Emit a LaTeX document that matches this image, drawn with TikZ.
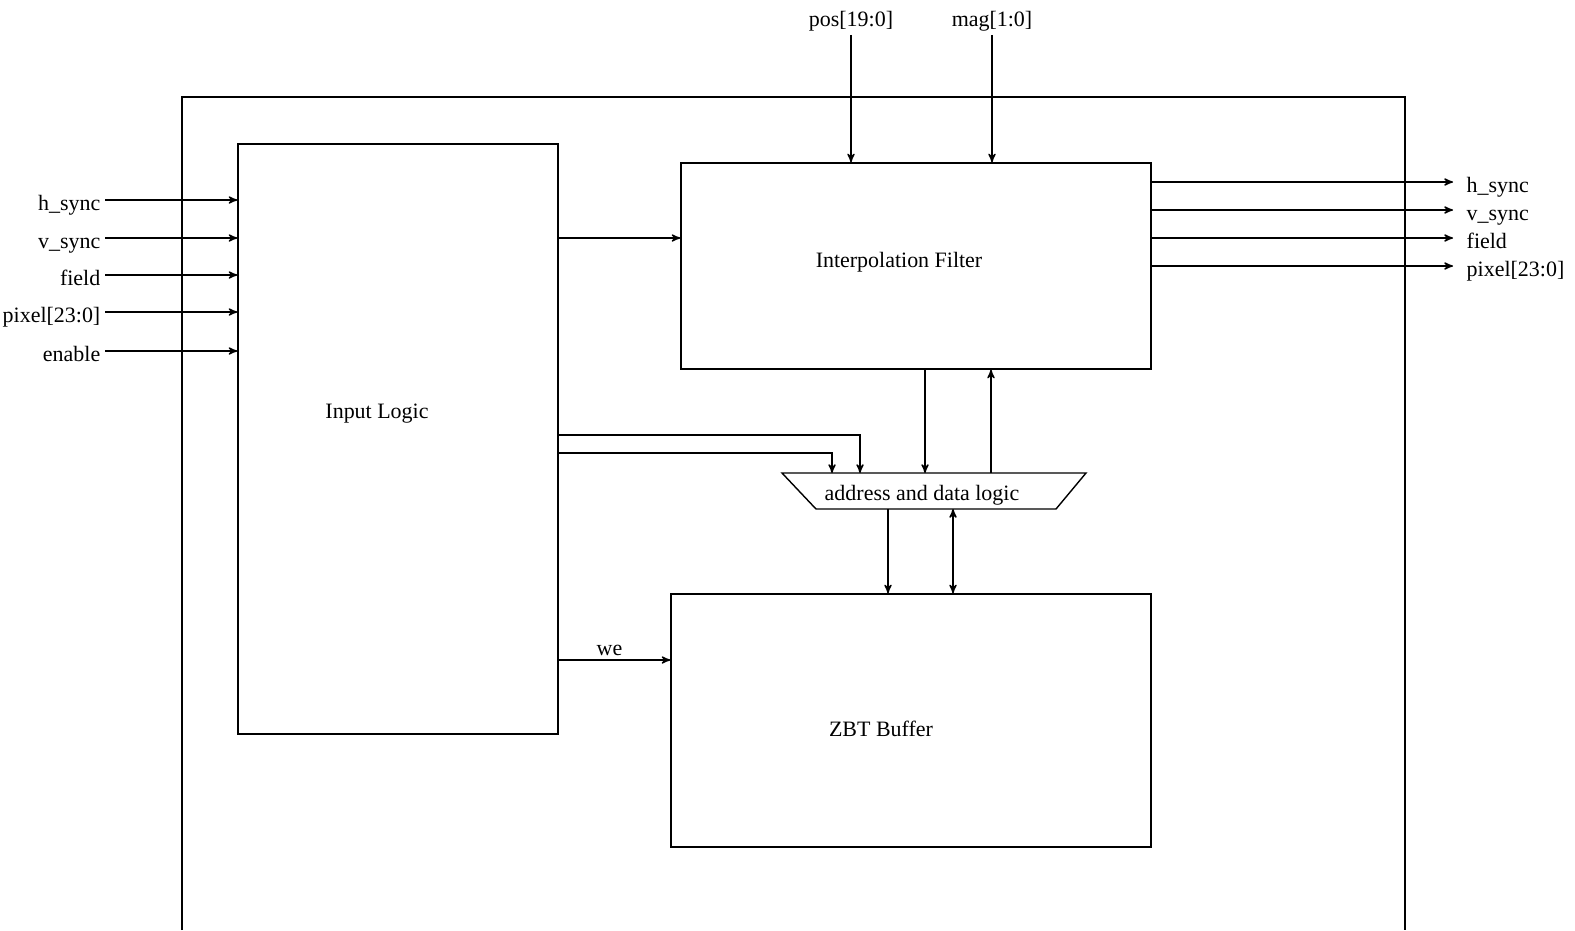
\documentclass[tikz,border=0pt]{standalone}
\usepackage{fontspec}
\setmainfont{Liberation Serif}
\usetikzlibrary{arrows,positioning,calc}

\tikzset{
  blk/.style={draw, rectangle, inner sep=0pt},
  lbl/.style={font=\fontsize{12.5}{15}\selectfont, inner sep=2pt},
  inlbl/.style={lbl, anchor=base east, inner xsep=0.08cm},
  outlbl/.style={lbl, anchor=base west, inner xsep=0.26cm}
}

\begin{document}
\begin{tikzpicture}[x=0.02cm,y=-0.02cm,line width=0.8pt,>=stealth']

\useasboundingbox (0,0) rectangle (1575,930);

% outer frame, open at the bottom
\draw (182,930) -- (182,97) -- (1405,97) -- (1405,930);

% blocks
\node[blk, minimum width=6.4cm, minimum height=11.8cm] (inlog) at (398,439) {};
\node[blk, minimum width=9.4cm, minimum height=4.12cm] (interp) at (916,266) {};
\node[blk, minimum width=9.6cm, minimum height=5.06cm] (zbt) at (911,720.5) {};

\node[lbl] (inlogtxt) at (377,414) {Input Logic};
\node[lbl] (interptxt) at (899,262) {Interpolation Filter};
\node[lbl] (zbttxt) at (881,729) {ZBT Buffer};

% address and data logic
\coordinate (adltl) at (782,473);
\coordinate (adltr) at (1086,473);
\coordinate (adlbr) at (1056,509);
\coordinate (adlbl) at (816,509);
\draw (adltl) -- (adltr) -- (adlbr) -- (adlbl) -- cycle;
\node[lbl] (adl) at (922,495) {address and data logic};

% inputs
\node[inlbl] (inhs) at (105,210) {h\_sync};
\node[inlbl] (invs) at (105,248) {v\_sync};
\node[inlbl] (infd) at (105,285) {field};
\node[inlbl] (inpx) at (105,322) {pixel[23:0]};
\node[inlbl] (inen) at (105,361) {enable};
\draw[->] ([yshift=0.2cm]inhs.base east) -- ([yshift=0.2cm]inhs.base east -| inlog.west);
\draw[->] ([yshift=0.2cm]invs.base east) -- ([yshift=0.2cm]invs.base east -| inlog.west);
\draw[->] ([yshift=0.2cm]infd.base east) -- ([yshift=0.2cm]infd.base east -| inlog.west);
\draw[->] ([yshift=0.2cm]inpx.base east) -- ([yshift=0.2cm]inpx.base east -| inlog.west);
\draw[->] ([yshift=0.2cm]inen.base east) -- ([yshift=0.2cm]inen.base east -| inlog.west);

% outputs
\node[outlbl] (ouths) at (1453,192) {h\_sync};
\node[outlbl] (outvs) at (1453,220) {v\_sync};
\node[outlbl] (outfd) at (1453,248) {field};
\node[outlbl] (outpx) at (1453,276) {pixel[23:0]};
\draw[->] ([yshift=0.2cm]ouths.base west -| interp.east) -- ([yshift=0.2cm]ouths.base west);
\draw[->] ([yshift=0.2cm]outvs.base west -| interp.east) -- ([yshift=0.2cm]outvs.base west);
\draw[->] ([yshift=0.2cm]outfd.base west -| interp.east) -- ([yshift=0.2cm]outfd.base west);
\draw[->] ([yshift=0.2cm]outpx.base west -| interp.east) -- ([yshift=0.2cm]outpx.base west);

% control inputs on top
\node[lbl, anchor=base] (pos) at (851,26) {pos[19:0]};
\node[lbl, anchor=base] (mag) at (992,26) {mag[1:0]};
\draw[->] (pos.south) -- (pos.south |- interp.north);
\draw[->] (mag.south) -- (mag.south |- interp.north);

% internal connections
\draw[->] (inlog.east |- 0,238) -- (interp.west |- 0,238);
\draw[->] (inlog.east |- 0,435) -| (860,0 |- adltl);
\draw[->] (inlog.east |- 0,453) -| (832,0 |- adltl);
\draw[->] (925,0 |- interp.south) -- (925,0 |- adltl);
\draw[->] (991,0 |- adltl) -- (991,0 |- interp.south);
\draw[->] (888,0 |- adlbl) -- (888,0 |- zbt.north);
\draw[<->] (953,0 |- adlbl) -- (953,0 |- zbt.north);
\draw[->] (inlog.east |- 0,660) -- (zbt.west |- 0,660) node[lbl, midway, above, xshift=-0.1cm] (we) {we};

\end{tikzpicture}
\end{document}
